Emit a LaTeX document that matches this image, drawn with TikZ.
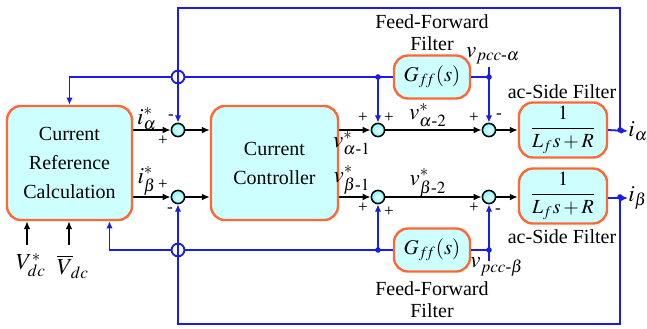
\documentclass[tikz,border=0pt]{standalone}
\usepackage{amsmath}
\usepackage{mathptmx}
\usepackage{fontspec}
\setmainfont{Liberation Serif}
\usetikzlibrary{arrows.meta}
\definecolor{boxfill}{RGB}{206,255,255}
\definecolor{boxedge}{RGB}{255,104,52}
\definecolor{fbblue}{RGB}{28,28,232}
\tikzset{
  blk/.style={draw=boxedge, fill=boxfill, line width=1.2pt, rounded corners=7pt, align=center, inner sep=0pt, font=\fontsize{10}{14.5}\selectfont},
  sumpt/.style={circle, draw, line width=0.75pt, inner color=white, outer color=cyan!55, minimum size=6.6pt, inner sep=0pt},
  hop/.style={circle, draw=fbblue, line width=0.9pt, minimum size=6.4pt, inner sep=0pt},
  fb/.style={draw=fbblue, line width=0.9pt, -{Latex[length=3.6pt,width=3.2pt]}},
  fbl/.style={draw=fbblue, line width=0.9pt},
  sig/.style={line width=0.75pt, -{Latex[length=4pt,width=3.4pt]}},
  pm/.style={font=\fontsize{8.5}{8.5}\selectfont, inner sep=0pt},
  lbl/.style={inner sep=0pt, align=center},
  mlbl/.style={inner sep=0pt, font=\fontsize{11.5}{12}\selectfont}
}
\begin{document}
\begin{tikzpicture}[x=0.5pt, y=-0.5pt, font=\fontsize{10}{11}\selectfont]
\useasboundingbox (0,0) rectangle (647,328);
% blocks
\node[blk, minimum width=62.5pt, minimum height=57pt] (crc) at (69.5,163) {Current\\Reference\\Calculation};
\node[blk, minimum width=63.5pt, minimum height=57pt] (cc) at (274.5,163) {Current\\Controller};
\node[blk, minimum width=38pt, minimum height=21.5pt, font=\fontsize{10.5}{11}\selectfont] (ffa) at (432,77) {$G_{f\!f}(s)$};
\node[blk, minimum width=38pt, minimum height=21.5pt, font=\fontsize{10.5}{11}\selectfont] (ffb) at (432,250) {$G_{f\!f}(s)$};
\node[blk, minimum width=44pt, minimum height=27.5pt] (aca) at (563,130) {$\dfrac{1}{L_f s+R}$};
\node[blk, minimum width=44pt, minimum height=27.5pt] (acb) at (563,196) {$\dfrac{1}{L_f s+R}$};
% summing points and crossings
\node[sumpt] (sa) at (178,130) {};
\node[sumpt] (sb) at (178,197) {};
\node[sumpt] (s1a) at (378,130) {};
\node[sumpt] (s2a) at (489,130) {};
\node[sumpt] (s1b) at (378,197) {};
\node[sumpt] (s2b) at (489,197) {};
\node[hop] (ha) at (178,77) {};
\node[hop] (hb) at (178,250) {};
\coordinate (da1) at (378,77);
\coordinate (da2) at (489,77);
\coordinate (db1) at (378,250);
\coordinate (db2) at (489,250);
\coordinate (oa) at (620,130);
\coordinate (ob) at (620,197);
\coordinate (pa) at (489,67);
\coordinate (pb) at (489,261);
\coordinate (tr) at (620,8);
\coordinate (br) at (620,324);
\coordinate (ins) at (27,245);
\coordinate (inv) at (69,245);
% texts
\node[mlbl] (ia) at (147,119) {$i_\alpha^*$};
\node[mlbl] (ib) at (147,181) {$i_\beta^*$};
\node[mlbl] (va1) at (352,143) {$v^*_{\alpha\text{-}1}$};
\node[mlbl] (vb1) at (352,180) {$v^*_{\beta\text{-}1}$};
\node[mlbl] (va2) at (428,115) {$v^*_{\alpha\text{-}2}$};
\node[mlbl] (vb2) at (428,183) {$v^*_{\beta\text{-}2}$};
\node[mlbl] (vpa) at (493,56) {$v_{pcc\text{-}\alpha}$};
\node[mlbl] (vpb) at (497,267) {$v_{pcc\text{-}\beta}$};
\node[lbl] (fla) at (432,33) {Feed-Forward\\Filter};
\node[lbl] (flb) at (432,300) {Feed-Forward\\Filter};
\node[lbl] (acla) at (562,92) {ac-Side Filter};
\node[lbl] (aclb) at (562,237) {ac-Side Filter};
\node[mlbl] (vdcs) at (31,265) {$V_{dc}^*$};
\node[mlbl] (vdc) at (73,267) {$\overline{V}_{\!dc}$};
\node[mlbl, anchor=west] (oia) at (628,131) {$i_\alpha$};
\node[mlbl, anchor=west] (oib) at (628,198) {$i_\beta$};
% signs
\node[pm] at (171,117) {-};
\node[pm] at (163,141) {+};
\node[pm] at (163,185) {+};
\node[pm] at (170,210) {-};
\node[pm] at (363,118) {+};
\node[pm] at (389,118) {+};
\node[pm] at (474,118) {+};
\node[pm] at (499,116) {-};
\node[pm] at (363,208) {+};
\node[pm] at (389,212) {+};
\node[pm] at (474,208) {+};
\node[pm] at (498,211) {-};
% signal paths
\draw[sig] (crc.east |- sa.west) -- (sa.west);
\draw[sig] (sa.east) -- (sa.east -| cc.west);
\draw[sig] (crc.east |- sb.west) -- (sb.west);
\draw[sig] (sb.east) -- (sb.east -| cc.west);
\draw[sig] (cc.east |- s1a.west) -- (s1a.west);
\draw[sig] (s1a.east) -- (s2a.west);
\draw[sig] (s2a.east) -- (aca.west);
\draw[sig] (cc.east |- s1b.west) -- (s1b.west);
\draw[sig] (s1b.east) -- (s2b.west);
\draw[sig] (s2b.east) -- (s2b.east -| acb.west);
\draw[sig] (ins) -- (ins |- crc.south);
\draw[sig] (inv) -- (inv |- crc.south);
% feedback and feed-forward
\draw[fb] (aca.east) -- (oia.west);
\draw[fb] (acb.east |- oib.west) -- (oib.west);
\draw[fb] (oa) -- (tr) -| (sa.north);
\draw[fb] (ob) -- (br) -| (sb.south);
\draw[fbl] (ffa.west) -- (ha.east);
\draw[fb] (ha.west) -| (crc.north);
\draw[fb] (da1) -- (s1a.north);
\draw[fbl] (ffa.east) -- (da2);
\draw[fb] (pa) -- (s2a.north);
\draw[fbl] (ffb.west) -- (hb.east);
\draw[fb] (hb.west) -| ([xshift=20pt]crc.south);
\draw[fb] (db1) -- (s1b.south);
\draw[fbl] (ffb.east) -- (db2);
\draw[fb] (pb) -- (s2b.south);
\foreach \d in {da1,da2,db1,db2,oa,ob} { \fill[fbblue] (\d) circle (1.4pt); }
\end{tikzpicture}
\end{document}
